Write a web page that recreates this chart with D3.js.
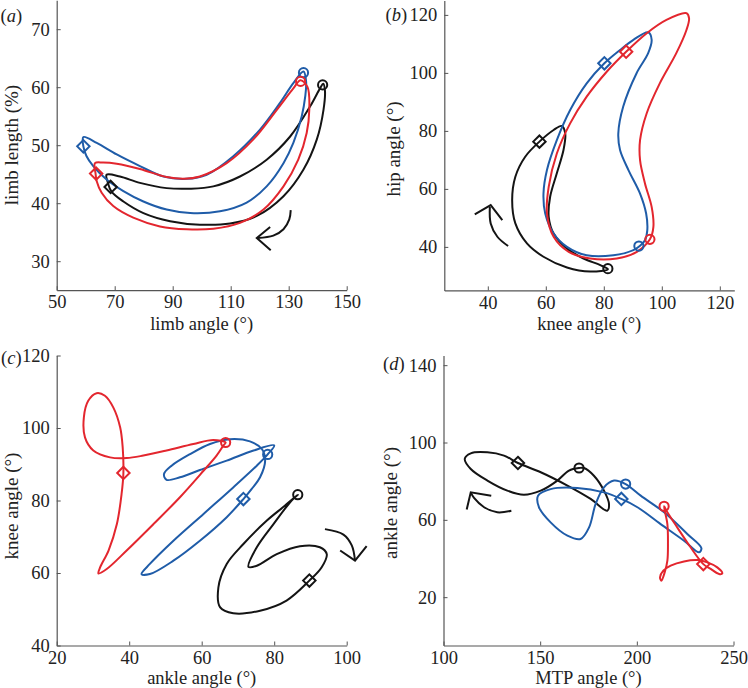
<!DOCTYPE html>
<html><head><meta charset="utf-8">
<script src="https://cdn.jsdelivr.net/npm/d3@7"></script>
<style>
html,body{margin:0;padding:0;background:#fff;}
svg{display:block;}
text{font-family:"Liberation Serif","Times New Roman",serif;}
</style></head>
<body>
<script>
// ---------- DATA ----------
const seriesOrder = ["black", "blue", "red"];

// Panel (a): limb angle vs limb length
const aXTicks = [50, 70, 90, 110, 130, 150];
const aYTicks = [30, 40, 50, 60, 70];
const aBlack = [[67.2,44.9],[71.8,44.6],[78.7,43.5],[87.9,42.6],[96.0,42.5],[104.0,42.9],[113.2,44.6],[122.4,47.5],[130.5,51.5],[137.4,56.7],[140.8,59.8],[141.9,60.6],[142.5,59.4],[142.0,56.1],[139.7,51.0],[135.1,45.8],[128.2,41.2],[119.0,37.8],[109.8,36.5],[99.4,36.3],[89.1,36.9],[79.9,38.3],[73.0,40.3],[68.9,42.0],[67.6,43.6]];
const aBlue = [[59.2,51.4],[63.8,50.4],[70.7,48.4],[78.7,46.4],[86.8,44.6],[94.8,44.2],[101.7,44.9],[110.9,48.1],[120.1,52.7],[127.0,57.3],[131.6,60.7],[135.1,62.7],[136.0,61.0],[135.7,58.4],[134.5,55.0],[131.6,50.4],[128.2,46.9],[122.4,42.9],[115.5,40.1],[106.3,38.6],[96.0,38.3],[87.9,38.9],[79.9,40.3],[73.0,42.1],[67.2,44.1],[62.6,46.4],[60.3,48.1],[59.2,49.8]];
const aRed = [[63.2,46.9],[66.0,47.0],[70.7,46.8],[78.7,45.9],[87.9,44.5],[94.0,44.2],[99.4,44.6],[108.6,46.9],[117.8,51.0],[125.9,56.1],[131.6,59.8],[134.1,61.2],[136.5,60.0],[137.1,56.1],[136.2,52.1],[133.3,47.5],[128.2,42.9],[121.3,38.9],[113.2,36.6],[104.0,35.6],[94.8,35.5],[85.6,36.0],[76.4,37.5],[69.5,39.5],[65.5,41.8],[63.8,43.8],[63.4,45.1]];
const aCircles = [[141.7,60.4],[135.1,62.5],[134.1,61.0]];
const aDiamonds = [[68.6,42.8],[59.2,49.8],[63.6,45.1]];
const aArrowShaft = [[130.7,38.8],[130.2,37.2],[128.2,35.5],[124.7,34.4],[119.3,34.0]];
const aArrowHead = [[123.6,35.9],[119.0,34.0],[123.8,31.9]];

// Panel (b): knee angle vs hip angle
const bXTicks = [40, 60, 80, 100, 120];
const bYTicks = [40, 60, 80, 100, 120];
const bBlack = [[81.4,32.3],[75.3,31.5],[67.3,32.9],[59.2,36.6],[53.5,41.2],[49.5,48.1],[48.4,56.1],[49.5,64.2],[52.9,71.1],[57.8,76.3],[62.7,80.3],[65.5,81.7],[66.7,79.1],[66.1,73.4],[63.8,65.4],[61.5,57.3],[61.0,50.4],[62.7,44.6],[67.3,39.4],[73.0,36.0],[78.8,33.7]];
const bBlue = [[95.3,114.0],[90.2,111.4],[85.6,107.9],[80.2,103.3],[74.1,96.4],[68.4,87.2],[63.8,76.8],[60.4,66.5],[59.2,58.4],[59.8,51.5],[62.7,44.6],[67.3,40.0],[74.1,37.1],[83.3,37.1],[90.2,38.9],[92.5,40.4],[94.2,42.3],[95.0,45.8],[94.6,51.5],[92.5,58.4],[88.5,66.5],[85.6,73.4],[85.0,79.1],[86.7,88.4],[91.3,99.9],[95.3,106.8],[96.5,111.4]];
const bRed = [[108.5,120.6],[101.6,118.3],[94.8,113.7],[87.7,107.3],[81.0,100.4],[74.1,91.8],[68.4,82.6],[63.8,72.2],[61.0,60.7],[60.4,51.5],[62.7,43.5],[67.9,38.3],[75.3,36.0],[84.5,36.0],[91.4,38.3],[95.9,42.6],[97.1,46.9],[96.5,53.8],[94.2,61.9],[92.5,69.9],[92.5,76.8],[94.8,86.1],[99.3,96.4],[105.0,106.8],[108.5,114.8],[109.4,118.8]];
const bCircles = [[81.4,32.5],[92.1,40.3],[95.9,42.6]];
const bDiamonds = [[57.8,76.3],[80.2,103.3],[87.7,107.3]];
const bArrowShaft = [[47.0,40.3],[43.3,43.5],[41.0,48.1],[40.7,53.8]];
const bArrowHead = [[35.5,51.2],[41.0,54.4],[45.0,49.2]];

// Panel (c): ankle angle vs knee angle
const cXTicks = [20, 40, 60, 80, 100];
const cYTicks = [40, 60, 80, 100, 120];
const cBlack = [[86.5,81.6],[83.0,78.6],[77.9,74.4],[71.5,68.0],[66.9,62.5],[64.6,56.0],[65.1,50.5],[68.7,48.9],[76.1,49.6],[83.4,52.4],[89.7,57.9],[93.1,61.6],[94.5,65.2],[92.6,67.1],[87.1,67.4],[80.7,65.2],[75.2,62.0],[72.9,61.7],[75.2,67.1],[79.8,73.5],[84.8,80.0]];
const cBlue = [[78.2,92.7],[80.0,95.2],[74.3,93.8],[66.9,91.0],[59.5,88.4],[54.0,86.4],[50.3,85.7],[49.6,87.3],[51.7,89.6],[56.8,92.8],[62.3,95.6],[67.8,96.9],[73.3,96.3],[76.6,94.2],[77.5,91.0],[76.1,86.4],[73.8,83.2],[71.5,80.4],[66.9,75.4],[59.5,68.9],[52.2,63.4],[45.7,59.7],[43.4,59.7],[45.7,62.5],[52.2,68.9],[60.5,76.3],[68.7,83.6],[75.2,89.6]];
const cRed = [[66.6,96.0],[63.2,96.7],[57.7,95.6],[50.3,93.8],[43.9,92.4],[39.3,91.7],[34.7,91.9],[30.1,93.8],[27.8,97.4],[27.5,103.0],[28.7,107.5],[31.0,109.6],[33.3,108.9],[35.6,105.7],[37.5,100.2],[38.2,94.7],[38.4,87.6],[37.9,81.8],[36.6,73.5],[34.3,66.2],[32.0,61.6],[31.5,59.9],[33.8,61.1],[39.3,66.2],[46.7,73.5],[54.0,80.9],[60.5,88.2],[64.1,92.4],[66.0,95.2]];
const cCircles = [[86.5,81.6],[78.2,92.7],[66.6,96.0]];
const cDiamonds = [[89.7,57.9],[71.5,80.4],[38.4,87.6]];
const cArrowShaft = [[94.0,72.1],[99.1,70.6],[101.4,67.6],[102.3,63.4]];
const cArrowHead = [[98.2,66.2],[102.3,63.4],[105.5,67.4]];

// Panel (d): MTP angle vs ankle angle
const dXTicks = [100, 150, 200, 250];
const dYTicks = [20, 60, 100, 140];
const dBlack = [[138.5,89.4],[150.3,84.6],[164.1,77.7],[176.1,70.8],[184.7,64.7],[185.6,68.2],[183.0,75.1],[177.8,82.8],[172.7,86.8],[170.1,86.8],[164.9,85.5],[158.9,80.3],[150.3,75.1],[141.6,73.0],[133.0,75.1],[122.7,80.3],[114.1,86.3],[111.0,91.5],[114.1,94.4],[122.7,94.9],[131.3,93.2]];
const dBlue = [[194.2,78.5],[202.0,72.5],[214.1,63.9],[226.1,52.7],[233.4,45.4],[232.2,43.2],[224.4,49.2],[212.3,57.8],[200.3,66.5],[192.0,70.8],[183.0,74.2],[169.2,76.5],[155.4,75.9],[148.9,72.5],[149.4,66.5],[155.4,58.7],[164.1,51.8],[170.9,50.1],[175.3,56.1],[178.7,68.2],[183.0,76.8],[188.2,80.3]];
const dRed = [[214.1,67.0],[215.8,57.8],[216.1,47.5],[215.8,38.9],[214.4,32.8],[212.7,28.5],[212.0,30.3],[213.7,33.7],[217.5,36.3],[224.4,38.5],[231.3,39.2],[236.5,38.0],[241.6,35.4],[244.2,32.3],[242.5,32.0],[238.2,34.6],[234.4,37.1],[227.8,45.8],[220.9,56.1],[215.8,63.9]];
const dCircles = [[170.1,86.8],[194.2,78.5],[214.1,67.0]];
const dDiamonds = [[138.5,89.4],[192.0,70.8],[234.4,37.1]];
const dArrowShaft = [[135.1,64.7],[127.8,63.9],[121.0,66.5],[115.8,71.3],[114.1,74.2]];
const dArrowHead = [[112.0,65.3],[114.1,74.2],[124.7,72.5]];

// ---------- LAYOUT / STYLE ----------
const W = 748, H = 688;
const color = {black: "#141414", blue: "#1f5ca8", red: "#e3262e"};
const panels = [
  {tag: "a", left: 56.7, top: 0.2, size: 290, xDom: [50,150], yDom: [25,75], xTicks: aXTicks, yTicks: aYTicks,
   lines: [aBlack, aBlue, aRed], circles: aCircles, diamonds: aDiamonds, shaft: aArrowShaft, head: aArrowHead,
   xLabel: "limb angle (°)", yLabel: "limb length (%)", xLabOff: 40, yLabOff: 39.2, yLabC: 145, tagX: 0.5, tagY: 21.5},
  {tag: "b", left: 444.3, top: 0.4, size: 290, xDom: [25,125], yDom: [25,125], xTicks: bXTicks, yTicks: bYTicks,
   lines: [bBlack, bBlue, bRed], circles: bCircles, diamonds: bDiamonds, shaft: bArrowShaft, head: bArrowHead,
   xLabel: "knee angle (°)", yLabel: "hip angle (°)", xLabOff: 40, yLabOff: 44.3, yLabC: 149, tagX: 385.5, tagY: 20.5},
  {tag: "c", left: 56.7, top: 355.5, size: 290, xDom: [20,100], yDom: [40,120], xTicks: cXTicks, yTicks: cYTicks,
   lines: [cBlack, cBlue, cRed], circles: cCircles, diamonds: cDiamonds, shaft: cArrowShaft, head: cArrowHead,
   xLabel: "ankle angle (°)", yLabel: "knee angle (°)", xLabOff: 38.5, yLabOff: 38.4, yLabC: 506, tagX: 1, tagY: 363.5},
  {tag: "d", left: 443.5, top: 355.5, size: 290, xDom: [100,250], yDom: [-5,145], xTicks: dXTicks, yTicks: dYTicks,
   lines: [dBlack, dBlue, dRed], circles: dCircles, diamonds: dDiamonds, shaft: dArrowShaft, head: dArrowHead,
   xLabel: "MTP angle (°)", yLabel: "ankle angle (°)", xLabOff: 38.5, yLabOff: 46.2, yLabC: 503, tagX: 383, tagY: 370}
];

const svg = d3.select("body").append("svg").attr("width", W).attr("height", H);

panels.forEach(p => {
  const x = d3.scaleLinear().domain(p.xDom).range([0, p.size]);
  const y = d3.scaleLinear().domain(p.yDom).range([p.size, 0]);
  const g = svg.append("g").attr("transform", `translate(${p.left},${p.top})`);

  // axes
  const xAxis = d3.axisBottom(x).tickValues(p.xTicks).tickSizeInner(-4).tickSizeOuter(0).tickPadding(5);
  const yAxis = d3.axisLeft(y).tickValues(p.yTicks).tickSizeInner(-4).tickSizeOuter(0).tickPadding(7);
  const gx = g.append("g").attr("transform", `translate(0,${p.size})`).call(xAxis);
  const gy = g.append("g").call(yAxis);
  [gx, gy].forEach(ax => {
    ax.select(".domain").attr("stroke", "#555").attr("stroke-width", 1.2);
    ax.selectAll(".tick line").attr("stroke", "#555").attr("stroke-width", 1);
    ax.selectAll(".tick text").attr("fill", "#222").style("font-size", "18.5px")
      .style("font-family", '"Liberation Serif", serif');
  });

  // axis titles
  g.append("text").attr("x", p.size / 2).attr("y", p.size + p.xLabOff).attr("text-anchor", "middle")
    .attr("fill", "#222").style("font-size", "18.5px").text(p.xLabel);
  g.append("text").attr("transform", `translate(${-p.yLabOff},${p.yLabC - p.top}) rotate(-90)`)
    .attr("text-anchor", "middle").attr("fill", "#222").style("font-size", "19px").text(p.yLabel);

  // panel tag
  const t = svg.append("text").attr("x", p.tagX).attr("y", p.tagY).attr("fill", "#222").style("font-size", "18.5px");
  t.append("tspan").text("(");
  t.append("tspan").style("font-style", "italic").text(p.tag);
  t.append("tspan").text(")");

  // curves
  const line = d3.line().x(d => x(d[0])).y(d => y(d[1])).curve(d3.curveCatmullRomClosed.alpha(0.5));
  p.lines.forEach((pts, i) => {
    const c = color[seriesOrder[i]];
    g.append("path").datum(pts).attr("d", line).attr("fill", "none")
      .attr("stroke", c).attr("stroke-width", 2).attr("stroke-linejoin", "round");
  });
  p.lines.forEach((pts, i) => {
    const c = color[seriesOrder[i]];
    const ci = p.circles[i], di = p.diamonds[i];
    g.append("circle").attr("cx", x(ci[0])).attr("cy", y(ci[1])).attr("r", 4.6)
      .attr("fill", "none").attr("stroke", c).attr("stroke-width", 2);
    const dx = x(di[0]), dy = y(di[1]), s = 6.2;
    g.append("path").attr("d", `M${dx},${dy - s}L${dx + s},${dy}L${dx},${dy + s}L${dx - s},${dy}Z`)
      .attr("fill", "none").attr("stroke", c).attr("stroke-width", 2);
  });

  // direction arrow
  const open = d3.line().x(d => x(d[0])).y(d => y(d[1])).curve(d3.curveCatmullRom.alpha(0.5));
  g.append("path").datum(p.shaft).attr("d", open).attr("fill", "none").attr("stroke", "#141414").attr("stroke-width", 2);
  g.append("path").datum(p.head).attr("d", d3.line().x(d => x(d[0])).y(d => y(d[1])))
    .attr("fill", "none").attr("stroke", "#141414").attr("stroke-width", 2);
});
</script>
</body></html>
